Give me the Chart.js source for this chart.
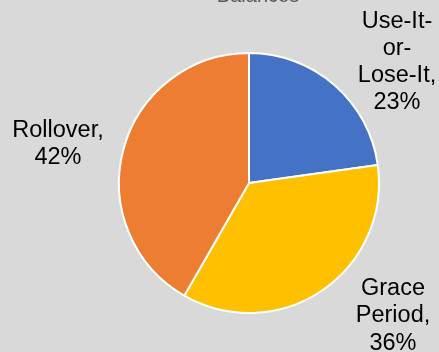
<!DOCTYPE html>
<html>
<head>
<meta charset="utf-8">
<script src="https://cdn.jsdelivr.net/npm/chart.js@4"></script>
<style>
  html, body { margin: 0; padding: 0; background: #d9d9d9; }
  #wrap { width: 439px; height: 352px; }
</style>
</head>
<body>
<div id="wrap"><canvas id="myChart" width="439" height="352"></canvas></div>
<script>
var labels = ["Use-It-or-Lose-It", "Grace Period", "Rollover"];
var shares = [22.8, 35.5, 41.7];
var sliceColors = ["#4472C4", "#FFC000", "#ED7D31"];

// label text lines and where they sit relative to the pie centre
var labelLines = [["Use-It-", "or-", "Lose-It,"], ["Grace", "Period,"], ["Rollover,"]];
var labelOffsets = [[148, -121], [144, 133], [-191, -39]];

var outsideLabels = {
  id: "outsideLabels",
  afterDraw: function (chart) {
    var ctx = chart.ctx;
    var arc = chart.getDatasetMeta(0).data[0];
    var cx = arc.x, cy = arc.y;
    var lh = 27.3;
    ctx.save();
    ctx.textAlign = "center";
    // chopped-off chart title at the very top
    ctx.fillStyle = "#595959";
    ctx.font = "20px 'Liberation Sans', Arial, sans-serif";
    ctx.textBaseline = "alphabetic";
    ctx.fillText("Balances", 258, 1.5);
    ctx.textBaseline = "middle";
    ctx.fillStyle = "#000000";
    ctx.font = "23.5px 'Liberation Sans', Arial, sans-serif";
    shares.forEach(function (v, i) {
      var lines = labelLines[i].concat([Math.round(v) + "%"]);
      var x = cx + labelOffsets[i][0];
      var y0 = cy + labelOffsets[i][1] - (lines.length - 1) * lh / 2;
      lines.forEach(function (t, j) {
        ctx.fillText(t, x, y0 + j * lh);
      });
    });
    ctx.restore();
  }
};

new Chart("myChart", {
  type: "pie",
  data: {
    labels: labels,
    datasets: [{
      data: shares,
      backgroundColor: sliceColors,
      borderColor: "#ffffff",
      borderWidth: 2
    }]
  },
  options: {
    responsive: false,
    animation: false,
    layout: { padding: { left: 118, right: 59, top: 52, bottom: 38 } },
    plugins: {
      legend: { display: false },
      tooltip: { enabled: false }
    }
  },
  plugins: [outsideLabels]
});
</script>
</body>
</html>
